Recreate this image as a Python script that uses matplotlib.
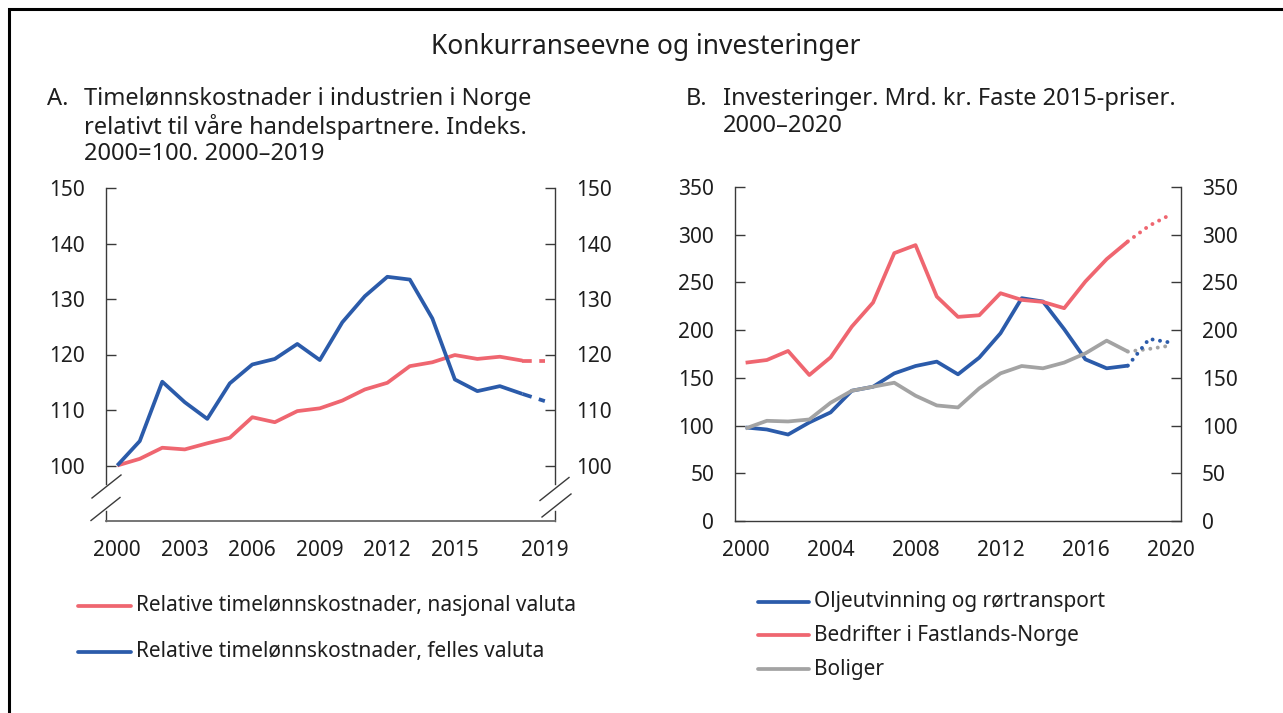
import matplotlib
matplotlib.use("Agg")
import matplotlib.pyplot as plt
from matplotlib.lines import Line2D
from matplotlib.patches import Rectangle

plt.rcParams['font.family'] = ['Noto Sans', 'DejaVu Sans']

# ---------------- Data ----------------
years_a = [2000, 2001, 2002, 2003, 2004, 2005, 2006, 2007, 2008, 2009,
           2010, 2011, 2012, 2013, 2014, 2015, 2016, 2017, 2018, 2019]
nasjonal = [100, 101.2, 103.2, 102.9, 104.0, 105.0, 108.7, 107.8, 109.8, 110.3,
            111.7, 113.7, 114.9, 117.9, 118.6, 119.9, 119.2, 119.6, 118.9, 118.9]
felles = [100, 104.4, 115.1, 111.4, 108.4, 114.8, 118.2, 119.2, 121.9, 119.0,
          125.8, 130.5, 134.0, 133.5, 126.5, 115.5, 113.4, 114.3, 112.9, 111.6]
a_labels = ["Relative timelønnskostnader, nasjonal valuta",
            "Relative timelønnskostnader, felles valuta"]
a_xticks = [2000, 2003, 2006, 2009, 2012, 2015, 2019]
a_yticks = [100, 110, 120, 130, 140, 150]

years_b = list(range(2000, 2021))
olje = [98, 95.9, 90.6, 103.3, 113.8, 136.5, 140.7, 154.7, 162.4, 167.0,
        153.7, 171.2, 196.7, 233.5, 230.0, 201.0, 169.4, 160.0, 162.8, 190.8, 187.0]
bedrifter = [165.9, 168.7, 178.2, 153.0, 171.5, 203.7, 228.9, 280.7, 289.1, 235.2,
             213.9, 215.6, 238.7, 231.7, 229.6, 223.0, 251.0, 274.4, 293.0, 309.4, 321.0]
boliger = [97, 105, 104.3, 106.4, 123.9, 136.5, 140.7, 144.9, 131.3, 121.1,
           119.0, 139.0, 154.7, 162.4, 160.0, 166.0, 175.7, 189.0, 177.5, 180.3, 183.8]
b_labels = ["Oljeutvinning og rørtransport", "Bedrifter i Fastlands-Norge", "Boliger"]
b_xticks = [2000, 2004, 2008, 2012, 2016, 2020]
b_yticks = [0, 50, 100, 150, 200, 250, 300, 350]

BLUE = "#2B5BAA"
RED = "#EF6670"
GRAY = "#A3A3A3"
TXT = "#1e1e1e"
SPINE = "#3a3a3a"

W, H = 1283, 713
fig = plt.figure(figsize=(W / 100, H / 100), dpi=100)

def fx(px):
    return px / W

def fy(py):
    return 1 - py / H

# border (only top and left visible)
fig.add_artist(Rectangle((fx(9), -0.1), 1.2, fy(9) + 0.1, transform=fig.transFigure,
                         fill=False, edgecolor="black", lw=2.2))

fig.text(fx(646), fy(47), "Konkurranseevne og investeringer", ha="center", va="center",
         fontsize=19, color=TXT)

# subtitles
SUBFS = 17
fig.text(fx(47), fy(99), "A.", ha="left", va="center", fontsize=SUBFS, color=TXT)
fig.text(fx(84), fy(87), "Timelønnskostnader i industrien i Norge\nrelativt til våre handelspartnere. Indeks.\n2000=100. 2000–2019",
         ha="left", va="top", fontsize=SUBFS, color=TXT, linespacing=1.14)
fig.text(fx(686), fy(99), "B.", ha="left", va="center", fontsize=SUBFS, color=TXT)
fig.text(fx(723), fy(87), "Investeringer. Mrd. kr. Faste 2015-priser.\n2000–2020",
         ha="left", va="top", fontsize=SUBFS, color=TXT, linespacing=1.14)

LW = 2.7
TICKFS = 15

# ---------------- Panel A ----------------
axA = fig.add_axes([fx(106), fy(521), fx(555) - fx(106), fy(188) - fy(521)])
axA.plot(years_a[:-1], nasjonal[:-1], color=RED, lw=LW, solid_capstyle="butt")
axA.plot(years_a[-2:], nasjonal[-2:], color=RED, lw=LW, linestyle=(0, (2.6, 2.0)))
axA.plot(years_a[:-1], felles[:-1], color=BLUE, lw=LW, solid_capstyle="butt")
axA.plot(years_a[-2:], felles[-2:], color=BLUE, lw=LW, linestyle=(0, (2.6, 2.0)))
axA.set_xlim(1999.5, 2019.45)
axA.set_ylim(90, 150)
axA.set_xticks(a_xticks)
axA.set_yticks(a_yticks)
axA.tick_params(axis="x", length=0, pad=14, labelsize=TICKFS, labelcolor=TXT)
axA.tick_params(axis="y", direction="in", length=7, width=1, color=SPINE, pad=15,
                labelsize=TICKFS, labelcolor=TXT, left=True, right=True,
                labelleft=True, labelright=True)
axA.spines["top"].set_visible(False)
axA.spines["left"].set_visible(False)
axA.spines["right"].set_visible(False)
axA.spines["bottom"].set_color("#6a6a6a")
axA.spines["bottom"].set_linewidth(1.3)
# broken vertical spines
for xa in (0, 1):
    ya_brk1 = (96.6 - 90) / 60
    ya_brk2 = (91.8 - 90) / 60
    axA.add_line(Line2D([xa, xa], [ya_brk1, 1.0], transform=axA.transAxes,
                        color=SPINE, lw=1.0, clip_on=False))
    axA.add_line(Line2D([xa, xa], [0, ya_brk2], transform=axA.transAxes,
                        color=SPINE, lw=1.0, clip_on=False))
# diagonal break marks (axes fraction)
ax_w, ax_h = 449, 333
def brk(ax, cx_px, cy_px):
    dx = 14.5 / ax_w
    dy = 11.5 / ax_h
    cx = cx_px / ax_w
    cy = cy_px / ax_h
    ax.add_line(Line2D([cx - dx, cx + dx], [cy - dy, cy + dy], transform=ax.transAxes,
                       color=SPINE, lw=1.0, clip_on=False))
brk(axA, 0.5, 521 - 486.5)
brk(axA, -0.5, 521 - 509)
brk(axA, 449 - 0.5, 521 - 489)
brk(axA, 449 + 1.5, 521 - 505.5)

# ---------------- Panel B ----------------
axB = fig.add_axes([fx(735), fy(521), fx(1181) - fx(735), fy(187) - fy(521)])
dot = (0, (0.01, 1.9))
for series, col in ((olje, BLUE), (bedrifter, RED), (boliger, GRAY)):
    axB.plot(years_b[:19], series[:19], color=col, lw=LW, solid_capstyle="butt")
for series, col in ((boliger, GRAY), (olje, BLUE), (bedrifter, RED)):
    axB.plot(years_b[18:], series[18:], color=col, lw=LW * 1.05, linestyle=dot,
             dash_capstyle="round")
axB.set_xlim(1999.5, 2020.5)
axB.set_ylim(0, 350)
axB.set_xticks(b_xticks)
axB.set_yticks(b_yticks)
axB.tick_params(axis="x", length=0, pad=14, labelsize=TICKFS, labelcolor=TXT)
axB.tick_params(axis="y", direction="in", length=7, width=1, color=SPINE, pad=15,
                labelsize=TICKFS, labelcolor=TXT, left=True, right=True,
                labelleft=True, labelright=True)
axB.spines["top"].set_visible(False)
for s in ("left", "right", "bottom"):
    axB.spines[s].set_color(SPINE)
    axB.spines[s].set_linewidth(1.0)

# ---------------- Legends ----------------
def leg_entry(x0, x1, y, color, text, fs):
    fig.add_artist(Line2D([fx(x0), fx(x1)], [fy(y), fy(y)], transform=fig.transFigure,
                          color=color, lw=LW, solid_capstyle="round"))
    fig.text(fx(x1 + 5), fy(y), text, ha="left", va="center", fontsize=fs, color=TXT)

leg_entry(78, 131, 606, RED, a_labels[0], 15)
leg_entry(78, 131, 652, BLUE, a_labels[1], 15)
leg_entry(758, 809, 602, BLUE, b_labels[0], 15)
leg_entry(758, 809, 635, RED, b_labels[1], 15)
leg_entry(758, 809, 669, GRAY, b_labels[2], 15)

fig.savefig("out.png", dpi=100)
